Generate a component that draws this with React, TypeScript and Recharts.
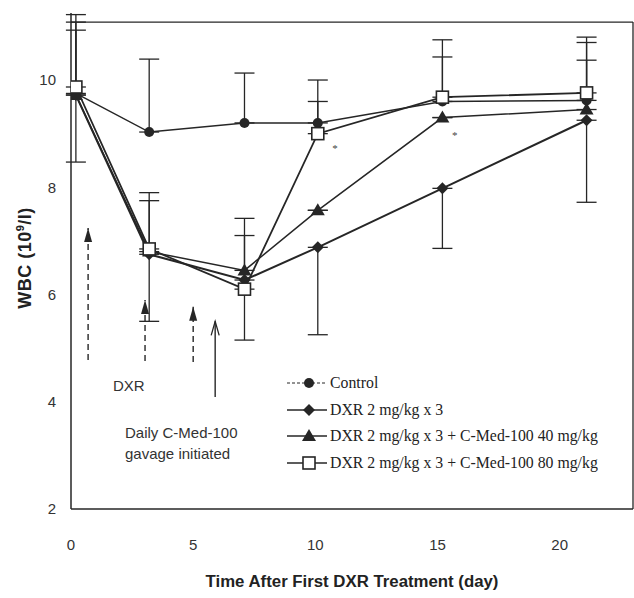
import React from 'react';
import {
  LineChart,
  Line,
  XAxis,
  YAxis,
  ErrorBar,
  ReferenceLine,
  ReferenceDot,
  Legend
} from 'recharts';

// values
const days = [0.2, 3.2, 7.1, 10.1, 15.2, 21.1];
const control = [9.75, 9.03, 9.2, 9.2, 9.6, 9.62];
const controlErr = [[0, 1.47], [0, 1.36], [0, 0.93], [0, 0.8], [0, 1.15], [0, 1.08]];
const dxr = [9.72, 6.75, 6.27, 6.88, 7.98, 9.25];
const dxrErr = [[1.25, 0], [1.25, 0], [1.12, 0], [1.63, 0], [1.12, 0], [1.53, 0]];
const med40 = [9.72, 6.8, 6.45, 7.57, 9.3, 9.45];
const med40Err = [[0, 1.21], [0, 0.95], [0, 0.65], [0, 0], [0, 0], [0, 0.92]];
const med80 = [9.87, 6.85, 6.1, 9.0, 9.68, 9.76];
const med80Err = [[0, 1.21], [0, 1.05], [0, 1.32], [0, 0.6], [0, 0.75], [0, 1.04]];

const seriesNames = [
  'Control',
  'DXR 2 mg/kg x 3',
  'DXR 2 mg/kg x 3 + C-Med-100 40 mg/kg',
  'DXR 2 mg/kg x 3 + C-Med-100 80 mg/kg'
];

const xTicks = [0, 5, 10, 15, 20];
const yTicks = [2, 4, 6, 8, 10];
const xMax = 23;
const yFrame = 11.08;

// treatment arrows (day, head value, tail value)
const arrowDays = [0.7, 3.03, 5.0, 5.9];
const arrowTops = [7.24, 5.9, 5.77, 5.5];
const arrowBottoms = [4.78, 4.76, 4.74, 4.09];
const arrowDashed = [true, true, true, false];

const markDays = [10.8, 15.7];
const markValues = [8.73, 8.97];

const rows = days.map((d, i) => ({
  day: d,
  control: control[i],
  controlErr: controlErr[i],
  dxr: dxr[i],
  dxrErr: dxrErr[i],
  med40: med40[i],
  med40Err: med40Err[i],
  med80: med80[i],
  med80Err: med80Err[i]
}));

const INK = '#262626';

const Circle = ({ cx, cy }: any) => <circle cx={cx} cy={cy} r={5} fill={INK} />;
const Diamond = ({ cx, cy }: any) => (
  <polygon points={`${cx},${cy - 6} ${cx + 6},${cy} ${cx},${cy + 6} ${cx - 6},${cy}`} fill={INK} />
);
const Triangle = ({ cx, cy }: any) => (
  <polygon points={`${cx},${cy - 7} ${cx + 7},${cy + 5} ${cx - 7},${cy + 5}`} fill={INK} />
);
const Square = ({ cx, cy }: any) => (
  <rect x={cx - 6} y={cy - 6} width={12} height={12} fill="#fff" stroke={INK} strokeWidth={1.6} />
);

const markers = [Circle, Diamond, Triangle, Square];

const renderLegend = () => (
  <div style={{ fontFamily: '"Liberation Serif", "Times New Roman", serif', fontSize: 15.8, color: '#222' }}>
    {seriesNames.map((name, i) => {
      const M = markers[i];
      return (
        <div key={name} style={{ display: 'flex', alignItems: 'center', height: 26.5 }}>
          <svg width={42} height={16} style={{ marginRight: 1 }}>
            <line x1={0} y1={8} x2={40} y2={8} stroke={INK} strokeWidth={i === 0 ? 1 : 1.5} strokeDasharray={i === 0 ? '3 2' : undefined} />
            <M cx={22} cy={8} />
          </svg>
          <span>{name}</span>
        </div>
      );
    })}
  </div>
);

const ArrowHead = ({ cx, cy, solid }: any) =>
  solid ? (
    <polyline points={`${cx - 4},${cy + 14} ${cx},${cy} ${cx + 4},${cy + 14}`} fill="none" stroke={INK} strokeWidth={1.3} />
  ) : (
    <polygon points={`${cx},${cy} ${cx + 4},${cy + 14} ${cx - 4},${cy + 14}`} fill={INK} />
  );

const YLabel = () => (
  <text
    transform="translate(31,258) rotate(-90)"
    textAnchor="middle"
    fontFamily='"Liberation Sans", Arial, sans-serif'
    fontWeight="bold"
    fontSize={18}
    letterSpacing={0.5}
    fill="#222"
  >
    WBC (10<tspan dy={-7} fontSize={11}>9</tspan>
    <tspan dy={7}>/l)</tspan>
  </text>
);

const noteStyle: React.CSSProperties = {
  position: 'absolute',
  fontFamily: '"Liberation Sans", Arial, sans-serif',
  fontSize: 15,
  color: '#333',
  lineHeight: '21px'
};

export default function App() {
  return (
    <div style={{ position: 'absolute', left: 0, top: 0, width: 634, height: 598, background: '#fff' }}>
      <LineChart width={634} height={598} data={rows} margin={{ top: 13, right: 1, bottom: 0, left: 21 }}>
        <XAxis
          type="number"
          dataKey="day"
          domain={[0, xMax]}
          ticks={xTicks}
          allowDataOverflow
          height={89}
          stroke={INK}
          strokeWidth={1.5}
          tickLine={false}
          tickMargin={24}
          tick={{ fill: '#333', fontSize: 15, fontFamily: '"Liberation Sans", Arial, sans-serif' }}
          label={{
            value: 'Time After First DXR Treatment (day)',
            position: 'insideBottom',
            offset: 11,
            fill: '#222',
            fontSize: 16.8,
            fontWeight: 'bold',
            fontFamily: '"Liberation Sans", Arial, sans-serif'
          }}
        />
        <YAxis
          type="number"
          domain={[2, 11.25]}
          ticks={yTicks}
          allowDataOverflow
          width={50}
          stroke={INK}
          strokeWidth={1.5}
          tickLine={false}
          tickMargin={9}
          tick={{ fill: '#333', fontSize: 15, fontFamily: '"Liberation Sans", Arial, sans-serif' }}
          label={{ content: () => <YLabel /> }}
        />
        <ReferenceLine y={yFrame} stroke={INK} strokeWidth={1.3} />
        <ReferenceLine segment={[{ x: xMax, y: 2 }, { x: xMax, y: yFrame }]} stroke={INK} strokeWidth={1.3} />
        {arrowDays.map((d, i) => (
          <ReferenceLine
            key={`a${i}`}
            segment={[{ x: d, y: arrowBottoms[i] }, { x: d, y: arrowTops[i] }]}
            stroke={INK}
            strokeWidth={1.4}
            strokeDasharray={arrowDashed[i] ? '6 4' : undefined}
          />
        ))}
        {arrowDays.map((d, i) => (
          <ReferenceDot
            key={`h${i}`}
            x={d}
            y={arrowTops[i]}
            r={0}
            shape={(p: any) => <ArrowHead cx={p.cx} cy={p.cy} solid={!arrowDashed[i]} />}
          />
        ))}
        {markDays.map((d, i) => (
          <ReferenceDot
            key={`m${i}`}
            x={d}
            y={markValues[i]}
            r={0}
            shape={(p: any) => (
              <text x={p.cx} y={p.cy + 4} textAnchor="middle" fontSize={11} fill="#444">*</text>
            )}
          />
        ))}
        <Line dataKey="control" stroke={INK} strokeWidth={1.5} isAnimationActive={false}
          dot={(p: any) => <Circle key={`c${p.index}`} cx={p.cx} cy={p.cy} />}>
          <ErrorBar dataKey="controlErr" width={10} stroke={INK} strokeWidth={1.3} />
        </Line>
        <Line dataKey="dxr" stroke={INK} strokeWidth={2} isAnimationActive={false}
          dot={(p: any) => <Diamond key={`d${p.index}`} cx={p.cx} cy={p.cy} />}>
          <ErrorBar dataKey="dxrErr" width={10} stroke={INK} strokeWidth={1.3} />
        </Line>
        <Line dataKey="med40" stroke={INK} strokeWidth={1.5} isAnimationActive={false}
          dot={(p: any) => <Triangle key={`t${p.index}`} cx={p.cx} cy={p.cy} />}>
          <ErrorBar dataKey="med40Err" width={10} stroke={INK} strokeWidth={1.3} />
        </Line>
        <Line dataKey="med80" stroke={INK} strokeWidth={1.8} isAnimationActive={false}
          dot={(p: any) => <Square key={`s${p.index}`} cx={p.cx} cy={p.cy} />}>
          <ErrorBar dataKey="med80Err" width={10} stroke={INK} strokeWidth={1.3} />
        </Line>
        <Legend
          layout="vertical"
          align="center"
          verticalAlign="middle"
          wrapperStyle={{ left: 287, top: 370, width: 346 }}
          content={renderLegend}
        />
      </LineChart>
      <div style={{ ...noteStyle, left: 113, top: 375 }}>DXR</div>
      <div style={{ ...noteStyle, left: 125, top: 422 }}>
        Daily C-Med-100
        <br />
        gavage initiated
      </div>
    </div>
  );
}
